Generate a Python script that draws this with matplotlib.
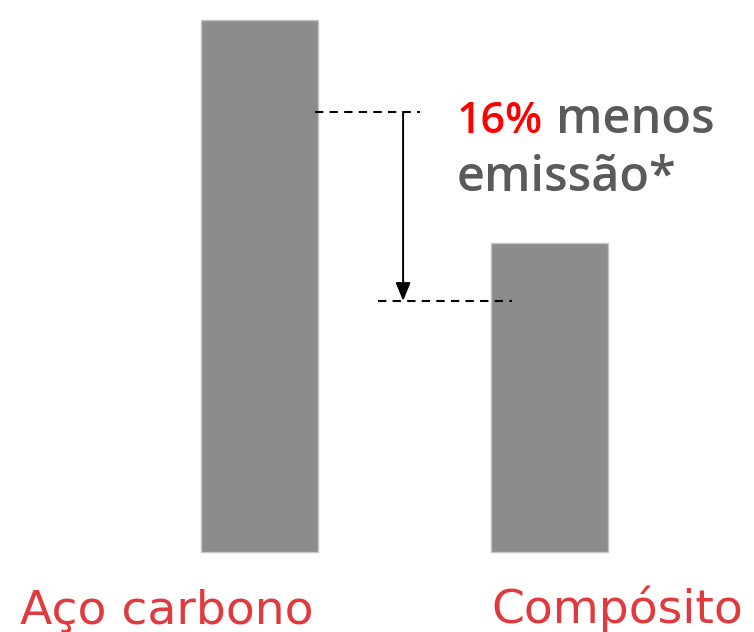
import matplotlib
matplotlib.use("Agg")
import matplotlib.pyplot as plt

# Emissão relativa (aço carbono = 100)
materiais = ["Aço carbono", "Compósito"]
emissao = [100.0, 58.1]
nivel_ref = [82.7, 47.2]   # linhas tracejadas da comparação
reducao_txt = "16%"

W, H = 754, 632
fig = plt.figure(figsize=(W / 100, H / 100), dpi=100)
ax = fig.add_axes([0, 0, 1, 1])
ax.set_xlim(-0.895, 1.705)
ax.set_ylim(-15.04, 103.76)
ax.axis("off")

ax.bar(range(len(materiais)), emissao, width=0.403, color="#8c8c8c",
       edgecolor="#c4c4c4", linewidth=1.0, zorder=2)

# linhas de referência e seta
ax.plot([0.191, 0.553], [nivel_ref[0]] * 2, ls=(0, (4, 3)), color="black", lw=1.5)
ax.plot([0.409, 0.871], [nivel_ref[1]] * 2, ls=(0, (4, 3)), color="black", lw=1.5)
ax.annotate("", xy=(0.495, nivel_ref[1]), xytext=(0.495, nivel_ref[0]),
            arrowprops=dict(arrowstyle="-|>,head_length=1.1,head_width=0.45",
                            color="black", lw=1.4, shrinkA=0, shrinkB=0))

def px(x, y):
    return x / W, 1 - y / H

fig.text(*px(457, 133), reducao_txt, color="#ff0000", fontsize=31,
         family="Open Sans", fontweight="semibold", va="baseline")
fig.text(*px(556, 133), "menos", color="#5a5a5a", fontsize=35,
         family="Open Sans", fontweight="semibold", va="baseline")
fig.text(*px(457, 191), "emissão*", color="#5a5a5a", fontsize=35,
         family="Open Sans", fontweight="semibold", va="baseline")

fig.text(*px(20, 623), materiais[0], color="#e0393e", fontsize=34,
         family="DejaVu Sans", va="baseline")
fig.text(*px(491, 623), materiais[1], color="#e0393e", fontsize=34,
         family="DejaVu Sans", va="baseline")

fig.savefig("out.png", dpi=100)
